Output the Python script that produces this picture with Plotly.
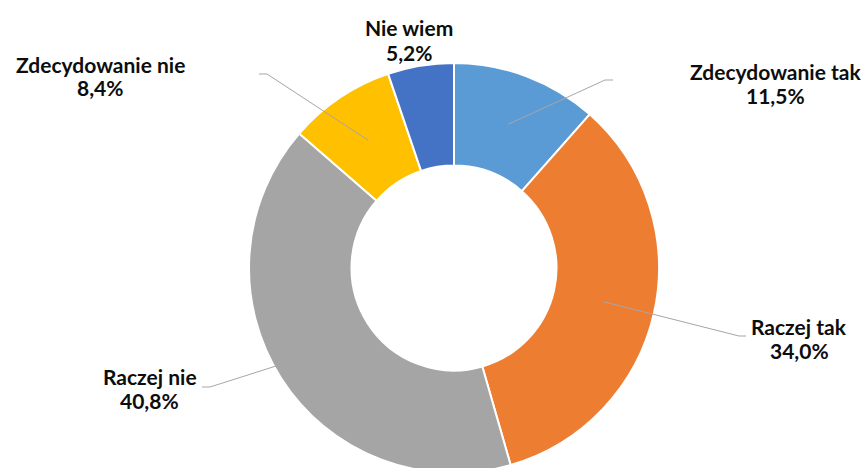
import math
import plotly.graph_objects as go

# ---- data ----
categories = ["Zdecydowanie tak", "Raczej tak", "Raczej nie", "Zdecydowanie nie", "Nie wiem"]
values = [11.5, 34.0, 40.8, 8.4, 5.2]

# ---- style ----
colors = ["#5B9BD5", "#ED7D31", "#A5A5A5", "#FFC000", "#4472C4"]
W, H = 864, 474

# target pie geometry in pixels
CX, CY, RAD = 454, 268, 205
dom_x = [(CX - RAD) / W, (CX + RAD) / W]
dom_y = [max(0.0, (H - CY - RAD) / H), min(1.0, (H - CY + RAD) / H)]

fig = go.Figure(go.Pie(
    labels=categories, values=values, sort=False, direction="clockwise",
    rotation=0, hole=0.5, textinfo="none", hoverinfo="label+percent",
    marker=dict(colors=colors, line=dict(color="white", width=2)),
    domain=dict(x=dom_x, y=dom_y), showlegend=False,
))

R = min(W * (dom_x[1] - dom_x[0]), H * (dom_y[1] - dom_y[0])) / 2
cx = W * (dom_x[0] + dom_x[1]) / 2
cy = H - H * (dom_y[0] + dom_y[1]) / 2

def px2paper(x, y):
    return x / W, 1 - y / H

# label placements (px: x center, first-line cap center) and leader elbows
label_pos = {
    "Zdecydowanie tak": (775, 70, [(613, 80), (605, 80)]),
    "Raczej tak": (799, 325.5, [(746, 336), (739, 336)]),
    "Raczej nie": (149.5, 375.5, [(202, 387), (210, 387)]),
    "Zdecydowanie nie": (100, 63, [(259, 74), (267, 74)]),
    "Nie wiem": (409, 27, None),
}
LINE_GAP = 24
FONT = dict(family="Lato", size=21, color="#0d0d0d")

total = sum(values)
cum = 0.0
annotations = []
shapes = []
for cat, v in zip(categories, values):
    mid = (cum + v / 2) / total * 2 * math.pi
    cum += v
    sx = cx + 0.75 * R * math.sin(mid)
    sy = cy - 0.75 * R * math.cos(mid)
    lx, ly, elbow = label_pos[cat]
    pct = f"{v:.1f}".replace(".", ",") + "%"
    for i, line in enumerate([cat, pct]):
        ax, ay = px2paper(lx, ly + 1 + i * LINE_GAP)
        annotations.append(dict(
            x=ax, y=ay, xref="paper", yref="paper", showarrow=False,
            text=f"<b>{line}</b>", xanchor="center", yanchor="middle",
            font=FONT,
        ))
    if elbow:
        pts = elbow + [(sx, sy)]
        path = ""
        for i, (x, y) in enumerate(pts):
            px_, py_ = px2paper(x, y)
            path += ("M" if i == 0 else "L") + f"{px_},{py_} "
        shapes.append(dict(type="path", path=path.strip(), xref="paper", yref="paper",
                           line=dict(color="#A6A6A6", width=1)))

fig.update_layout(
    width=W, height=H, margin=dict(l=0, r=0, t=0, b=0),
    paper_bgcolor="white", plot_bgcolor="white",
    annotations=annotations, shapes=shapes,
)
fig.write_html(
    "out.html",
    config={"displayModeBar": False},
    post_script="document.documentElement.style.overflow='hidden';"
                "document.body.style.margin='0';document.body.style.overflow='hidden';",
)
